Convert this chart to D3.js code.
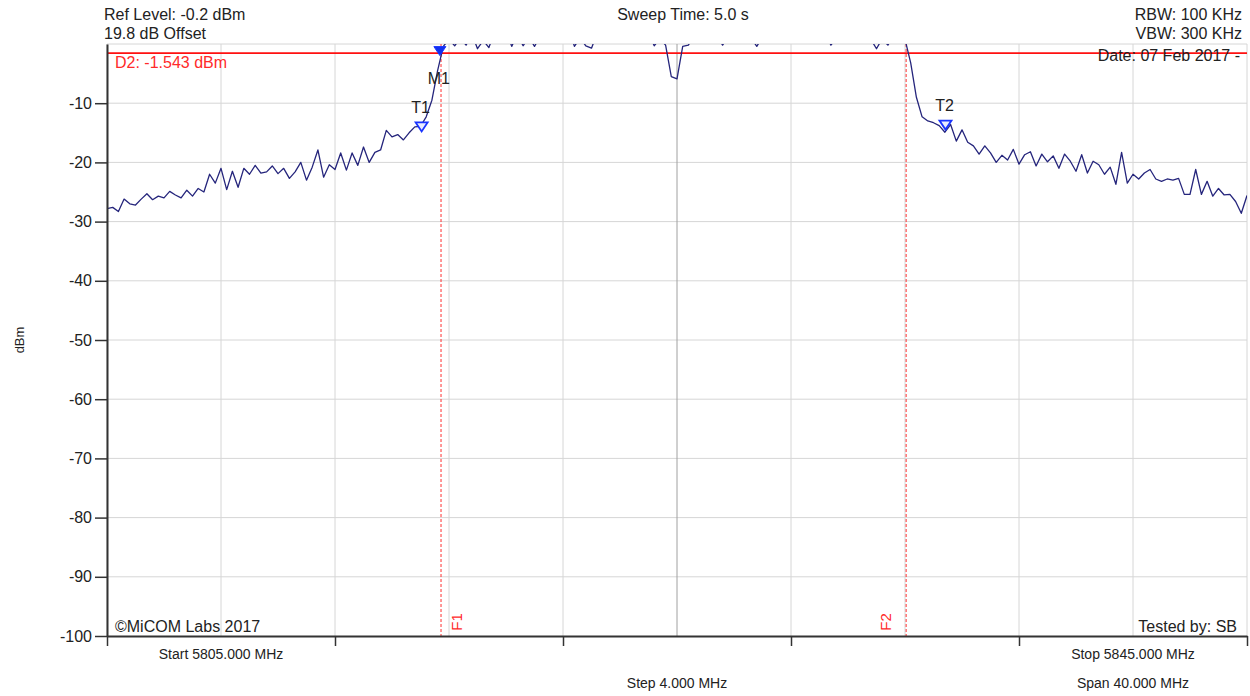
<!DOCTYPE html>
<html>
<head>
<meta charset="utf-8">
<script src="https://cdn.jsdelivr.net/npm/d3@7"></script>
<style>
  body { margin: 0; background: #fff; }
  svg { display: block; font-family: "Liberation Sans", Arial, sans-serif; }
</style>
</head>
<body>
<div id="chart"></div>
<script>
const width = 1250, height = 696;

// sweep settings
const startFreq = 5805, stopFreq = 5845, stepFreq = 0.2;
const levelTicks = [-10, -20, -30, -40, -50, -60, -70, -80, -90, -100];
const levelGrid = [0, -10, -20, -30, -40, -50, -60, -70, -80, -90];
const freqGrid = [5805, 5809, 5813, 5817, 5821, 5825, 5829, 5833, 5837, 5841, 5845];
const freqTicks = [5805, 5813, 5821, 5829, 5837, 5845];

// trace, dBm, one point per 0.2 MHz
const lowerSkirt = [
  -27.8, -27.6, -28.3, -26.2, -27.0, -27.2, -26.2, -25.3, -26.3, -25.7,
  -26.0, -24.9, -25.5, -26.0, -24.7, -25.7, -24.4, -25.0, -22.0, -23.5,
  -21.0, -24.6, -21.5, -24.2, -21.0, -22.0, -20.5, -21.8, -21.6, -20.6,
  -21.9, -21.0, -22.7, -21.6, -20.0, -23.0, -20.8, -17.9, -22.5, -20.4,
  -21.2, -18.4, -21.3, -18.4, -20.5, -17.4, -20.0, -18.3, -17.9, -14.6,
  -15.7, -15.3, -16.2, -15.0, -14.0, -13.9, -12.3, -9.5, -4.5
];
const channel = [
  -0.4, 0.8, -0.3, 1.0, -0.2, 1.8, -0.8, 0.6, -0.6, 2.1,
  1.4, 2.4, -0.4, 1.6, -0.3, 1.2, -0.4, 1.3, 2.6, 1.5,
  2.2, 1.1, 2.8, -0.4, 1.0, -0.3, -0.7, 1.8, 2.5, 1.4,
  2.3, 1.2, 2.7, 1.6, 2.4, 1.7, 2.0, -0.3, 0.9, -0.2,
  -5.5, -5.9, -0.4, -0.2, 1.5, 2.3, 1.6, 2.6, 1.4, -0.2,
  1.3, 2.4, 1.5, 2.2, 1.0, -0.4, 1.2, 2.5, 1.6, 2.8,
  1.7, 2.3, 1.4, 2.6, 1.5, 2.2, 1.3, 2.0, -0.2, 1.1,
  2.4, 1.5, 2.7, 1.6, 2.1, 0.8, -0.8, 0.9, -0.2, 1.4,
  2.0, 0.8
];
const upperSkirt = [
  -3.2, -9.0, -12.3, -13.0, -13.3, -13.8, -14.9, -13.6, -16.4, -14.5,
  -16.6, -17.2, -18.6, -17.2, -18.4, -20.0, -18.8, -19.6, -17.8, -20.3,
  -18.7, -18.2, -20.6, -18.6, -19.9, -18.9, -21.0, -18.6, -19.8, -21.5,
  -18.7, -21.8, -19.8, -20.4, -22.0, -20.8, -23.7, -18.3, -23.5, -22.0,
  -22.8, -21.8, -21.2, -22.8, -23.2, -22.8, -23.0, -22.7, -25.4, -25.4,
  -21.2, -25.4, -23.2, -25.7, -24.4, -25.5, -25.4, -26.6, -28.6, -25.6
];

const markerNames = ["M1", "T1", "T2"];
const markerFreqs = [5816.68, 5816.04, 5834.42];
const markerLevels = [-1.2, -14.0, -13.7];
const markerFilled = [true, false, false];

const lineNames = ["F1", "F2"];
const lineFreqs = [5816.72, 5833.04];
const displayLevel = -1.543;

const trace = lowerSkirt.concat(channel, upperSkirt)
  .map((v, i) => ({ f: startFreq + i * stepFreq, v: v }));

const x = d3.scaleLinear().domain([startFreq, stopFreq]).range([107, 1247]);
const y = d3.scaleLinear().domain([-100, 0]).range([636, 44]);

const svg = d3.select("#chart")
  .append("svg")
  .attr("width", width)
  .attr("height", height);

svg.append("defs").append("clipPath")
  .attr("id", "plot")
  .append("rect")
  .attr("x", x(startFreq)).attr("y", y(0))
  .attr("width", x(stopFreq) - x(startFreq))
  .attr("height", y(-100) - y(0));

// grid
svg.append("g").selectAll("line")
  .data(levelGrid)
  .enter().append("line")
  .attr("x1", x(startFreq)).attr("x2", x(stopFreq))
  .attr("y1", d => y(d)).attr("y2", d => y(d))
  .attr("stroke", "#d6d6d6");

svg.append("g").selectAll("line")
  .data(freqGrid)
  .enter().append("line")
  .attr("x1", d => x(d)).attr("x2", d => x(d))
  .attr("y1", y(0)).attr("y2", y(-100))
  .attr("stroke", d => d === 5825 ? "#a0a0a0" : "#d6d6d6");

// display line and frequency lines
svg.append("line")
  .attr("x1", x(startFreq)).attr("x2", x(stopFreq))
  .attr("y1", y(displayLevel)).attr("y2", y(displayLevel))
  .attr("stroke", "#ff1010")
  .attr("stroke-width", 1.6);

svg.append("g").selectAll("line")
  .data(lineFreqs)
  .enter().append("line")
  .attr("x1", d => x(d)).attr("x2", d => x(d))
  .attr("y1", y(0)).attr("y2", y(-100))
  .attr("stroke", "#ff3030")
  .attr("stroke-dasharray", "3,2");

svg.append("g").selectAll("text")
  .data(lineNames)
  .enter().append("text")
  .attr("transform", (d, i) => "translate(" + (x(lineFreqs[i]) + (i === 0 ? 21 : -15)) + ",622) rotate(-90)")
  .attr("text-anchor", "middle")
  .attr("font-size", "15px")
  .attr("fill", "#ff2a2a")
  .text(d => d);

// trace
const line = d3.line()
  .x(d => x(d.f))
  .y(d => y(d.v));

svg.append("path")
  .datum(trace)
  .attr("clip-path", "url(#plot)")
  .attr("fill", "none")
  .attr("stroke", "#25257c")
  .attr("stroke-width", 1.3)
  .attr("stroke-linejoin", "round")
  .attr("d", line);

// markers
const markers = svg.append("g").selectAll("g")
  .data(markerNames)
  .enter().append("g");

markers.append("path")
  .attr("d", (d, i) => {
    const mx = x(markerFreqs[i]), my = y(markerLevels[i]);
    return "M" + (mx - 6) + "," + (my - 4.5) + "L" + (mx + 6) + "," + (my - 4.5) + "L" + mx + "," + (my + 4.5) + "Z";
  })
  .attr("fill", (d, i) => markerFilled[i] ? "#1030f0" : "#e8ecff")
  .attr("stroke", "#1a34ff")
  .attr("stroke-width", (d, i) => markerFilled[i] ? 1 : 1.8);

markers.append("text")
  .attr("x", (d, i) => x(markerFreqs[i]) - 1)
  .attr("y", (d, i) => markerFilled[i] ? y(markerLevels[i]) + 33 : y(markerLevels[i]) - 14)
  .attr("text-anchor", "middle")
  .attr("font-size", "16px")
  .attr("fill", "#222")
  .text(d => d);

// axes
const yAxis = svg.append("g")
  .attr("transform", "translate(" + x(startFreq) + ",0)")
  .call(d3.axisLeft(y).tickValues(levelTicks).tickSize(12).tickSizeOuter(0).tickPadding(3)
    .tickFormat(d => String(d)));

const xAxis = svg.append("g")
  .attr("transform", "translate(0," + y(-100) + ")")
  .call(d3.axisBottom(x).tickValues(freqTicks).tickSize(10).tickSizeOuter(0).tickFormat(""));

[yAxis, xAxis].forEach(a => {
  a.select(".domain").attr("stroke", "#333").attr("stroke-width", 2);
  a.selectAll(".tick line").attr("stroke", "#333").attr("stroke-width", 1.5);
});
yAxis.selectAll(".tick text")
  .attr("font-size", "16px")
  .attr("font-family", "'Liberation Sans', Arial, sans-serif")
  .attr("fill", "#222");

svg.append("text")
  .attr("transform", "translate(24,340) rotate(-90)")
  .attr("text-anchor", "middle")
  .attr("font-size", "13px")
  .attr("fill", "#222")
  .text("dBm");

// header and footer texts
function label(tx, ty, anchor, size, color, str) {
  svg.append("text")
    .attr("x", tx).attr("y", ty)
    .attr("text-anchor", anchor)
    .attr("font-size", size)
    .attr("fill", color)
    .text(str);
}

label(104, 20, "start", "16px", "#222", "Ref Level: -0.2 dBm");
label(104, 39, "start", "16px", "#222", "19.8 dB Offset");
label(683, 20, "middle", "16px", "#222", "Sweep Time: 5.0 s");
label(1242, 20, "end", "16px", "#222", "RBW: 100 KHz");
label(1242, 39, "end", "16px", "#222", "VBW: 300 KHz");
label(1240, 61, "end", "16px", "#222", "Date: 07 Feb 2017 -");
label(115, 68, "start", "16px", "#ff2a2a", "D2: -1.543 dBm");
label(115, 632, "start", "16px", "#222", "©MiCOM Labs 2017");
label(1237, 632, "end", "16px", "#222", "Tested by: SB");

label((x(freqTicks[0]) + x(freqTicks[1])) / 2, 659, "middle", "14px", "#222", "Start 5805.000 MHz");
label((x(freqTicks[4]) + x(freqTicks[5])) / 2, 659, "middle", "14px", "#222", "Stop 5845.000 MHz");
label(x((startFreq + stopFreq) / 2), 688, "middle", "14px", "#222", "Step 4.000 MHz");
label((x(freqTicks[4]) + x(freqTicks[5])) / 2, 688, "middle", "14px", "#222", "Span 40.000 MHz");
</script>
</body>
</html>
